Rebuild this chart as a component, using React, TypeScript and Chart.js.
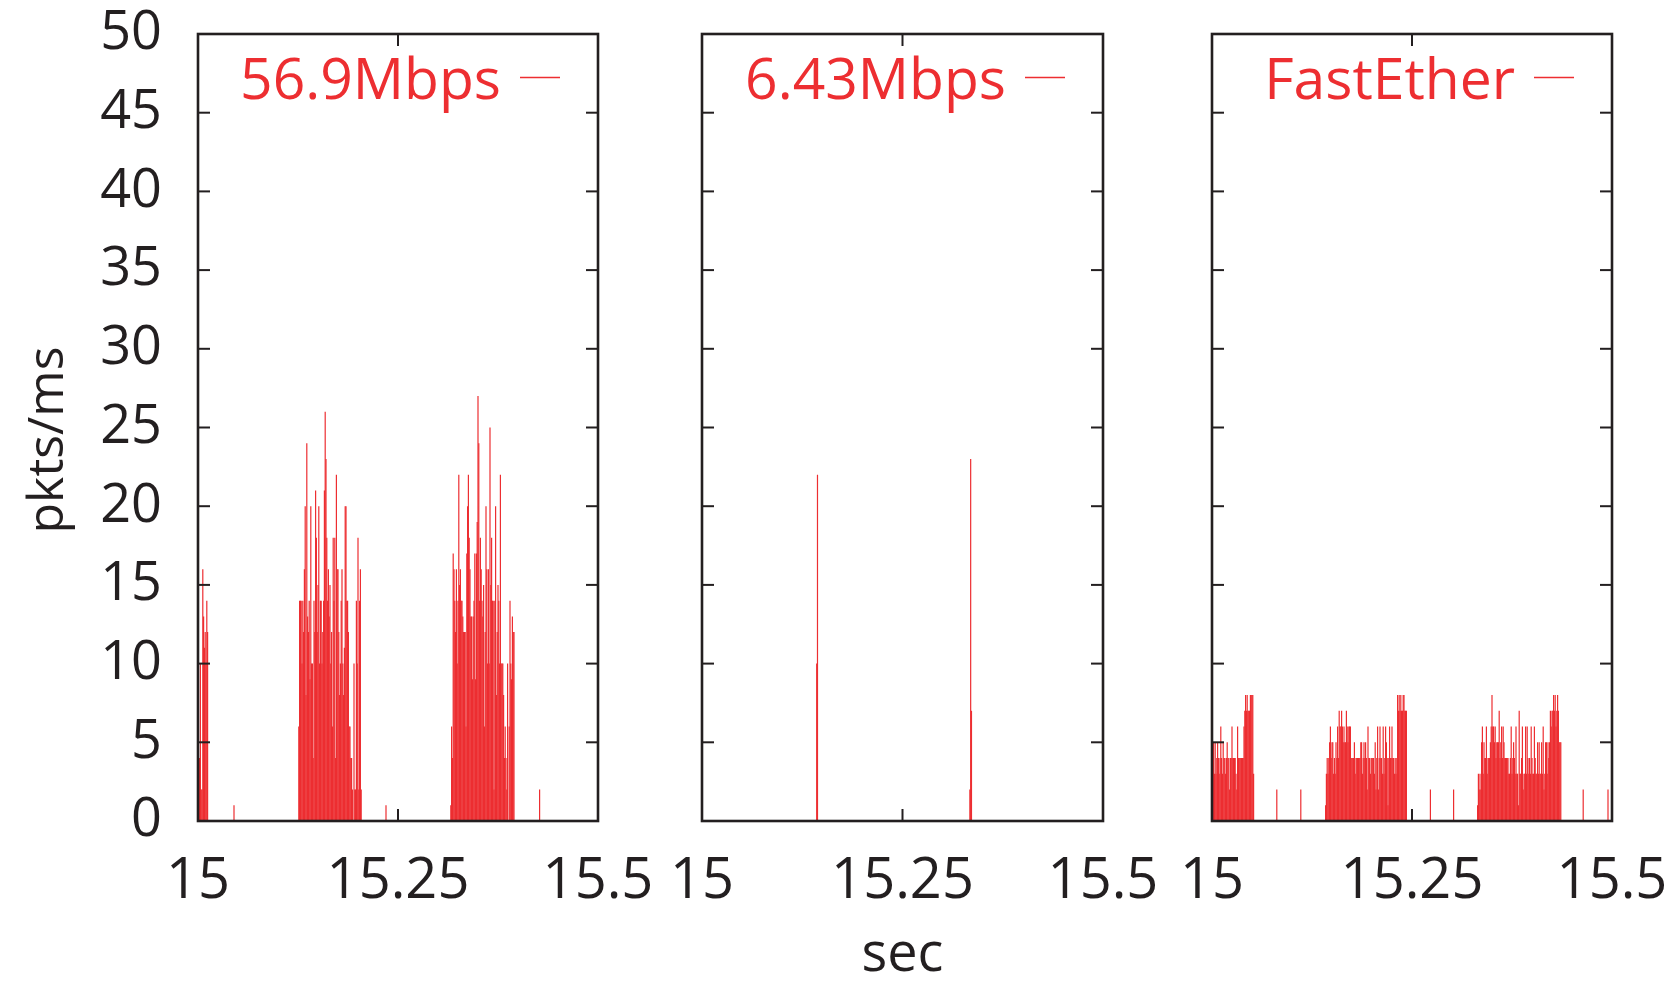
import { useEffect, useRef } from "react";
import { Chart, registerables } from "chart.js";

Chart.register(...registerables);

// ---- axes ----
const X_START = 15;
const X_END = 15.5;
const BIN_SEC = 0.001; // one bar per millisecond
const xTickValues = [15, 15.25, 15.5];
const xTickLabels = ["15", "15.25", "15.5"];
const yTickValues = [0, 5, 10, 15, 20, 25, 30, 35, 40, 45, 50];
const yTickLabels = ["0", "5", "10", "15", "20", "25", "30", "35", "40", "45", "50"];
const xTitle = "sec";
const yTitle = "pkts/ms";

// ---- 56.9Mbps link: packets per ms (burst start in ms after 15 s) ----
const link569Starts = [0, 126, 316];
const link569BurstA = [6, 2, 4, 10, 2, 2, 16, 13, 11, 12, 10, 14, 12];
const link569BurstB = [
  6, 14, 14, 14, 10, 14, 12, 16, 20, 8,
  24, 13, 12, 14, 9, 20, 10, 10, 4, 14,
  12, 21, 18, 12, 15, 20, 10, 14, 14, 10,
  12, 14, 21, 26, 23, 18, 14, 16, 13, 15,
  10, 12, 6, 18, 14, 18, 4, 22, 16, 16,
  12, 8, 10, 14, 16, 10, 8, 11, 20, 20,
  14, 14, 12, 6, 6, 4, 4, 2, 0, 10,
  2, 2, 14, 10, 18, 2, 14, 16, 2,
];
const link569BurstC = [
  1, 6, 4, 17, 16, 14, 12, 16, 10, 14,
  22, 15, 16, 14, 14, 13, 12, 12, 12, 6,
  17, 20, 22, 18, 16, 13, 13, 9, 13, 14,
  17, 9, 17, 19, 27, 24, 14, 18, 16, 14,
  13, 15, 6, 12, 20, 16, 10, 16, 10, 25,
  15, 18, 14, 14, 2, 14, 20, 8, 12, 15,
  14, 10, 22, 10, 10, 10, 8, 4, 6, 4,
  2, 10, 0, 6, 14, 10, 9, 13, 12, 12,
];
const link569Singles = [[45, 1], [235, 1], [427, 2]];

// ---- 6.43Mbps link ----
const link643Starts = [143, 334];
const link643BurstA = [10, 22];
const link643BurstB = [2, 23, 7];
const link643Singles: number[][] = [];

// ---- FastEther link ----
const fastStarts = [0, 142, 332];
const fastBurstA = [
  6, 3, 5, 3, 5, 3, 4, 5, 4, 3,
  4, 6, 4, 3, 5, 4, 4, 3, 4, 5,
  4, 4, 2, 4, 4, 6, 4, 4, 4, 4,
  3, 2, 6, 4, 4, 4, 4, 4, 4, 4,
  6, 7, 8, 7, 8, 7, 7, 7, 8, 8,
  8, 8, 3,
];
const fastBurstB = [
  1, 3, 4, 3, 4, 5, 6, 4, 5, 5,
  3, 4, 3, 5, 4, 6, 4, 7, 6, 6,
  7, 6, 5, 6, 5, 5, 7, 6, 5, 6,
  6, 6, 4, 4, 4, 4, 5, 3, 4, 4,
  4, 4, 4, 4, 5, 5, 3, 4, 5, 4,
  5, 4, 2, 6, 4, 4, 3, 4, 4, 4,
  4, 3, 5, 2, 4, 6, 2, 4, 6, 4,
  4, 3, 6, 3, 4, 6, 5, 4, 1, 4,
  6, 4, 4, 6, 4, 4, 3, 4, 3, 4,
  8, 7, 8, 7, 8, 7, 7, 8, 8, 7,
  7, 7,
];
const fastBurstC = [
  1, 3, 2, 3, 2, 5, 6, 3, 5, 4,
  4, 6, 3, 4, 4, 4, 5, 6, 8, 6,
  6, 5, 6, 4, 5, 5, 5, 7, 4, 5,
  6, 4, 6, 5, 4, 4, 4, 4, 4, 3,
  3, 4, 6, 3, 4, 5, 4, 3, 6, 3,
  3, 1, 7, 3, 3, 4, 6, 2, 3, 3,
  6, 3, 6, 4, 3, 4, 3, 6, 4, 3,
  3, 6, 4, 3, 3, 5, 3, 5, 3, 3,
  5, 3, 6, 2, 3, 5, 5, 3, 5, 4,
  5, 7, 6, 7, 7, 8, 7, 8, 6, 7,
  8, 7, 5, 5, 5,
];
const fastSingles = [[81, 2], [111, 2], [273, 2], [302, 2], [464, 2], [495, 2]];

const seriesNames = ["56.9Mbps", "6.43Mbps", "FastEther"];

// ---- page geometry and styling ----
const PAGE_W = 1672;
const PAGE_H = 984;
const PLOT_TOP = 34;
const PLOT_BOTTOM = 821;
const PANEL_LEFT = [198, 702, 1212];
const PANEL_RIGHT = [598, 1103, 1612];
const Y_TITLE_BASELINE_X = 63;
const Y_TITLE_CENTER_Y = 440;
const RED = "#ed2e31";
const INK = "#231f20";
const FONT = "'Open Sans', 'Noto Sans', sans-serif";

type Pt = { x: number; y: number };

function toPoints(starts: number[], bursts: number[][], singles: number[][]): Pt[] {
  const pts: Pt[] = [];
  bursts.forEach((counts, i) => {
    counts.forEach((c, k) => pts.push({ x: X_START + (starts[i] + k) * BIN_SEC, y: c }));
  });
  singles.forEach(([ms, c]) => pts.push({ x: X_START + ms * BIN_SEC, y: c }));
  pts.sort((a, b) => a.x - b.x);
  return pts;
}

const panelData: Pt[][] = [
  toPoints(link569Starts, [link569BurstA, link569BurstB, link569BurstC], link569Singles),
  toPoints(link643Starts, [link643BurstA, link643BurstB], link643Singles),
  toPoints(fastStarts, [fastBurstA, fastBurstB, fastBurstC], fastSingles),
];

// Frame with inward ticks on all four sides, a gnuplot-style key (text, then line sample)
// and, on the first panel, the rotated y-axis title
const framePlugin = {
  id: "gnuFrame",
  afterDatasetsDraw(chart: any, _args: any, opts: any) {
    const { ctx, chartArea } = chart;
    const { left, right, top, bottom } = chartArea;
    const xs = chart.scales.x;
    const ys = chart.scales.y;
    const TICK = 12;
    ctx.save();
    ctx.strokeStyle = INK;
    ctx.lineCap = "butt";
    ctx.lineWidth = 2;
    const seg = (x1: number, y1: number, x2: number, y2: number) => {
      ctx.beginPath();
      ctx.moveTo(x1, y1);
      ctx.lineTo(x2, y2);
      ctx.stroke();
    };
    yTickValues.forEach((v) => {
      const py = ys.getPixelForValue(v);
      seg(left, py, left + TICK, py);
      seg(right, py, right - TICK, py);
    });
    xTickValues.forEach((v) => {
      const px = xs.getPixelForValue(v);
      seg(px, bottom, px, bottom - TICK);
      seg(px, top, px, top + TICK);
    });
    ctx.lineWidth = 2.6;
    ctx.strokeRect(left, top, right - left, bottom - top);

    // key
    const label = chart.data.datasets[0].label as string;
    ctx.fillStyle = RED;
    ctx.font = `57px ${FONT}`;
    ctx.textAlign = "right";
    ctx.textBaseline = "alphabetic";
    ctx.fillText(label, right - 97, 99);
    ctx.strokeStyle = RED;
    ctx.lineWidth = 1.4;
    seg(right - 78, 77.5, right - 38, 77.5);

    // y-axis title
    if (opts && opts.yTitle) {
      ctx.fillStyle = INK;
      ctx.font = `50px ${FONT}`;
      ctx.textAlign = "center";
      ctx.textBaseline = "alphabetic";
      ctx.translate(Y_TITLE_BASELINE_X, Y_TITLE_CENTER_Y);
      ctx.rotate(-Math.PI / 2);
      ctx.fillText(opts.yTitle, 0, 0);
    }
    ctx.restore();
  },
};

function makeConfig(idx: number): any {
  const showY = idx === 0;
  return {
    type: "bar",
    data: {
      datasets: [
        {
          label: seriesNames[idx],
          data: panelData[idx],
          backgroundColor: RED,
          borderWidth: 0,
          barThickness: 1.2,
          inflateAmount: 0,
        },
      ],
    },
    options: {
      animation: false,
      responsive: false,
      events: [],
      layout: {
        padding: {
          left: showY ? 0 : PANEL_LEFT[idx],
          right: PAGE_W - PANEL_RIGHT[idx],
          top: PLOT_TOP,
          bottom: 0,
        },
      },
      plugins: {
        legend: { display: false },
        tooltip: { enabled: false },
        gnuFrame: { yTitle: showY ? yTitle : "" },
      },
      scales: {
        x: {
          type: "linear",
          min: X_START,
          max: X_END,
          offset: false,
          grid: { display: false, drawTicks: false },
          border: { display: false },
          afterBuildTicks: (s: any) => {
            s.ticks = xTickValues.map((value) => ({ value }));
          },
          afterFit: (s: any) => {
            s.height = PAGE_H - PLOT_BOTTOM;
            s.paddingLeft = 0;
            s.paddingRight = 0;
          },
          ticks: {
            autoSkip: false,
            maxRotation: 0,
            minRotation: 0,
            padding: 27,
            color: INK,
            font: { family: FONT, size: 56, lineHeight: 1.2 },
            callback: (_v: any, i: number) => xTickLabels[i],
          },
          title: {
            display: idx === 1,
            text: xTitle,
            color: INK,
            font: { family: FONT, size: 54, lineHeight: 1 },
            padding: { top: 0, bottom: 1 },
          },
        },
        y: {
          display: showY,
          min: 0,
          max: 50,
          grid: { display: false, drawTicks: false },
          border: { display: false },
          afterBuildTicks: (s: any) => {
            s.ticks = yTickValues.map((value) => ({ value }));
          },
          afterFit: (s: any) => {
            if (showY) s.width = PANEL_LEFT[0];
            s.paddingTop = 0;
            s.paddingBottom = 0;
          },
          ticks: {
            autoSkip: false,
            padding: 36,
            color: INK,
            font: { family: FONT, size: 54, lineHeight: 1.2 },
            callback: (_v: any, i: number) => yTickLabels[i],
          },
          title: { display: false },
        },
      },
    },
    plugins: [framePlugin],
  };
}

function Panel({ idx }: { idx: number }) {
  const ref = useRef<HTMLCanvasElement>(null);
  useEffect(() => {
    if (!ref.current) return;
    const chart = new Chart(ref.current, makeConfig(idx));
    return () => chart.destroy();
  }, [idx]);
  return (
    <canvas
      ref={ref}
      width={PAGE_W}
      height={PAGE_H}
      style={{ position: "absolute", left: 0, top: 0, width: PAGE_W, height: PAGE_H }}
    />
  );
}

export default function App() {
  return (
    <div
      style={{
        position: "absolute",
        left: 0,
        top: 0,
        width: PAGE_W,
        height: PAGE_H,
        background: "#ffffff",
        overflow: "hidden",
      }}
    >
      {[0, 1, 2].map((i) => (
        <Panel key={i} idx={i} />
      ))}
    </div>
  );
}
